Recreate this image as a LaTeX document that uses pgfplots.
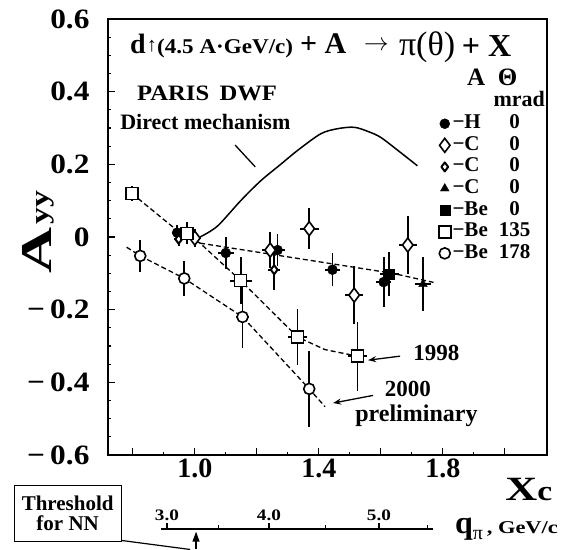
\documentclass[border=0pt]{standalone}
\usepackage{pgfplots}
\pgfplotsset{compat=1.18}
\usepackage{pgfplotstable}
\usepackage{fontspec}
\setmainfont{Liberation Serif}
\usetikzlibrary{arrows.meta}
\newcommand\fs[1]{\fontsize{#1}{#1}\selectfont}
\newcommand\lgent[2]{\makebox[46pt][l]{#1}\makebox[32pt][c]{#2}}
\newcommand\yl[1]{\scalebox{1.12}[1]{#1}}

\pgfplotstableread{
x y ex ey
0.943 0.012 0.015 0.020
1.100 -0.044 0.025 0.043
1.267 -0.036 0.025 0.045
1.444 -0.090 0.025 0.045
1.609 -0.124 0.025 0.070
}\Hdata
\pgfplotstableread{
x y ex ey
1.000 -0.003 0.020 0.025
1.243 -0.036 0.025 0.050
1.369 0.023 0.030 0.056
1.514 -0.160 0.030 0.080
1.687 -0.022 0.030 0.080
}\Cdata
\pgfplotstableread{
x y ex ey
0.948 -0.006 0.015 0.020
1.256 -0.090 0.020 0.055
}\Ctwo
\pgfplotstableread{
x y ex ey
1.736 -0.130 0.025 0.075
}\Cthree
\pgfplotstableread{
x y ex ey
1.627 -0.102 0.030 0.060
}\Bezero
\pgfplotstableread{
x y ex ey
0.797 0.120 0.015 0.020
0.974 0.010 0.020 0.030
1.148 -0.120 0.035 0.065
1.331 -0.275 0.030 0.078
1.525 -0.328 0.030 0.095
}\Beone
\pgfplotstableread{
x y ex ey
0.824 -0.052 0.020 0.045
0.966 -0.114 0.020 0.047
1.154 -0.220 0.020 0.085
1.369 -0.418 0.020 0.105
}\Betwo

\begin{document}
\begin{tikzpicture}
\path[use as bounding box] (-108pt,-94pt) rectangle (461pt,455pt);
\begin{axis}[
  scale only axis, width=439pt, height=436pt,
  xmin=0.72, xmax=2.136, ymin=-0.6, ymax=0.6,
  axis line style={line width=1.5pt},
  tick pos=left, tick align=inside,
  xtick={0.8,1.0,1.2,1.4,1.6,1.8,2.0},
  xticklabels={,1.0,,1.4,,1.8,},
  ytick={-0.6,-0.4,-0.2,0,0.2,0.4,0.6},
  yticklabels={\yl{−\,0.6},\yl{−\,0.4},\yl{−\,0.2},\yl{0},\yl{0.2},\yl{0.4},\yl{0.6}},
  minor x tick num=1, minor y tick num=3,
  major tick length=7pt, minor tick length=3.5pt,
  every tick/.style={line width=1.2pt, black},
  tick label style={font=\fs{28}\bfseries},
  yticklabel style={xshift=-15pt},
  clip=false,
  legend style={at={(0.753,0.785)}, anchor=north west, draw=none, fill=none,
    inner sep=0pt, font=\fs{21}\bfseries, legend cell align=left,
    nodes={inner sep=1.75pt, text height=14.1pt, text depth=4pt},
    row sep=0pt, /tikz/every even column/.append style={column sep=9pt}},
  err/.style={error bars/.cd, x dir=both, x explicit, y dir=both, y explicit,
    error mark=none, error bar style={line width=1.8pt, black}},
]
% lines
\addplot[smooth, line width=1.5pt, black, forget plot] coordinates {
 (1.017,0.0) (1.073,0.03) (1.148,0.10) (1.213,0.155) (1.277,0.20) (1.331,0.238)
 (1.406,0.284) (1.46,0.298) (1.514,0.302) (1.56,0.29) (1.60,0.274) (1.66,0.235) (1.718,0.196)};
\addplot[black, line width=1.3pt, dash pattern=on 5pt off 3pt, forget plot] coordinates {
 (0.797,0.12) (0.94,0.02) (1.017,-0.017) (1.148,-0.12) (1.331,-0.275) (1.42,-0.31) (1.525,-0.328)};
\addplot[black, line width=1.3pt, dash pattern=on 5pt off 3pt, forget plot] coordinates {
 (1.017,-0.017) (1.22,-0.044) (1.639,-0.10) (1.77,-0.125)};
\addplot[black, line width=1.3pt, dash pattern=on 5pt off 3pt, forget plot] coordinates {
 (0.78,-0.028) (0.824,-0.052) (0.966,-0.114) (1.154,-0.22) (1.369,-0.418) (1.42,-0.467)};
% markers
\addplot[only marks, black, mark=*, mark size=5pt, err] table[x=x,y=y,x error=ex,y error=ey] {\Hdata};
\addlegendentry{\lgent{−H}{0}}
\addplot[only marks, black, mark=diamond*, mark size=7pt, mark options={fill=white, line width=1.6pt}, err] table[x=x,y=y,x error=ex,y error=ey] {\Cdata};
\addlegendentry{\lgent{−C}{0}}
\addplot[only marks, black, mark=diamond*, mark size=4.5pt, mark options={fill=white, line width=2pt, line join=round}, err] table[x=x,y=y,x error=ex,y error=ey] {\Ctwo};
\addlegendentry{\lgent{−C}{0}}
\addplot[only marks, black, mark=triangle*, mark size=5pt, err] table[x=x,y=y,x error=ex,y error=ey] {\Cthree};
\addlegendentry{\lgent{−C}{0}}
\addplot[only marks, black, mark=square*, mark size=5pt, err] table[x=x,y=y,x error=ex,y error=ey] {\Bezero};
\addlegendentry{\lgent{−Be}{0}}
\addplot[only marks, black, mark=square*, mark size=6pt, mark options={fill=white, line width=1.6pt}, err] table[x=x,y=y,x error=ex,y error=ey] {\Beone};
\addlegendentry{\lgent{−Be}{135}}
\addplot[only marks, black, mark=*, mark size=5.5pt, mark options={fill=white, line width=1.6pt}, err] table[x=x,y=y,x error=ex,y error=ey] {\Betwo};
\addlegendentry{\lgent{−Be}{178}}

% title pieces
\node[anchor=base west, inner sep=0pt] at (axis cs:0.791,0.504) {\fs{28}\bfseries d};
\node[anchor=base west, inner sep=0pt] at (axis cs:0.845,0.510) {\fs{20}\bfseries ↑};
\node[anchor=base west, inner sep=0pt] at (axis cs:0.878,0.504) {\scalebox{1.1}[1]{\fs{21}\bfseries (4.5 A·GeV/c)}};
\node[anchor=base west, inner sep=0pt] at (axis cs:1.339,0.504) {\fs{30}\bfseries + A};
\node[anchor=base west, inner sep=0pt] at (axis cs:1.545,0.512) {\fs{27}$\rightarrow$};
\node[anchor=base west, inner sep=0pt] at (axis cs:1.658,0.500) {\fs{34}π(θ)};
\node[anchor=base west, inner sep=0pt] at (axis cs:1.861,0.497) {\fs{32}\bfseries + X};
\node[anchor=base west, inner sep=0pt] at (axis cs:1.878,0.416) {\fs{25}\bfseries A\ \ Θ};
\node[anchor=base east, inner sep=0pt] at (axis cs:2.13,0.360) {\fs{22}\bfseries mrad};
\node[anchor=base west, inner sep=0pt] at (axis cs:0.8135,0.377) {\scalebox{1.12}[1]{\fs{22}\bfseries PARIS\, DWF}};
\node[anchor=base west, inner sep=0pt] at (axis cs:0.759,0.295) {\fs{22}\bfseries Direct mechanism};
\draw[line width=1.3pt] (axis cs:1.13,0.253) -- (axis cs:1.195,0.193);
\node[anchor=base west, inner sep=0pt] at (axis cs:1.704,-0.339) {\fs{23}\bfseries 1998};
\node[anchor=base west, inner sep=0pt] at (axis cs:1.612,-0.439) {\fs{23}\bfseries 2000};
\node[anchor=base west, inner sep=0pt] at (axis cs:1.517,-0.507) {\fs{24}\bfseries preliminary};
\draw[line width=1.3pt, -{Stealth[length=8pt,width=6pt]}] (axis cs:1.662,-0.328) -- (axis cs:1.559,-0.339);
\draw[line width=1.3pt, -{Stealth[length=8pt,width=6pt]}] (axis cs:1.575,-0.436) -- (axis cs:1.446,-0.457);
% axis titles
\node[anchor=base west, inner sep=0pt] at (axis cs:2.001,-0.7245) {\scalebox{1.3}[1]{\fs{34}\bfseries X}\scalebox{1.2}[1]{\fs{28}\bfseries c}};
\node[rotate=90, inner sep=0pt] at (axis cs:0.491,-0.036) {\scalebox{1.45}[1]{\fs{44}\bfseries A}};
\node[rotate=90, inner sep=0pt] at (axis cs:0.517,0.08) {\scalebox{1.3}[1]{\fs{26}\bfseries yy}};
% q_pi axis
\draw[line width=1.3pt] (axis cs:0.891,-0.804) -- (axis cs:1.768,-0.804);
\draw[line width=1.2pt] (axis cs:0.910,-0.804) -- ++(0pt,6pt);
\draw[line width=1.2pt] (axis cs:1.239,-0.804) -- ++(0pt,6pt);
\draw[line width=1.2pt] (axis cs:1.594,-0.804) -- ++(0pt,6pt);
\draw[line width=1pt] (axis cs:1.075,-0.804) -- ++(0pt,4pt);
\draw[line width=1pt] (axis cs:1.420,-0.804) -- ++(0pt,4pt);
\draw[line width=1pt] (axis cs:1.752,-0.804) -- ++(0pt,4pt);
\node[anchor=base, inner sep=0pt] at (axis cs:0.910,-0.780) {\scalebox{1.2}[1]{\fs{16}\bfseries 3.0}};
\node[anchor=base, inner sep=0pt] at (axis cs:1.239,-0.780) {\scalebox{1.2}[1]{\fs{16}\bfseries 4.0}};
\node[anchor=base, inner sep=0pt] at (axis cs:1.594,-0.780) {\scalebox{1.2}[1]{\fs{16}\bfseries 5.0}};
\node[anchor=base west, inner sep=0pt] at (axis cs:1.839,-0.815) {{\fs{32}\bfseries q}{\fs{20}\raisebox{-6pt}{π}}\scalebox{1.25}[1]{\fs{18}\bfseries\,, GeV/c}};
\draw[line width=1.3pt, -{Triangle[length=10pt,width=7pt]}] (axis cs:1.004,-0.86) -- (axis cs:1.004,-0.811);
\draw[line width=1.2pt] (axis cs:0.762,-0.835) -- (axis cs:0.985,-0.86);
\node[draw, line width=1.2pt, minimum width=107pt, minimum height=56pt, align=center, inner sep=0pt, font=\fs{21}\bfseries] at (axis cs:0.590,-0.760) {Threshold\\[-1pt]for NN};
\end{axis}
\end{tikzpicture}
\end{document}
